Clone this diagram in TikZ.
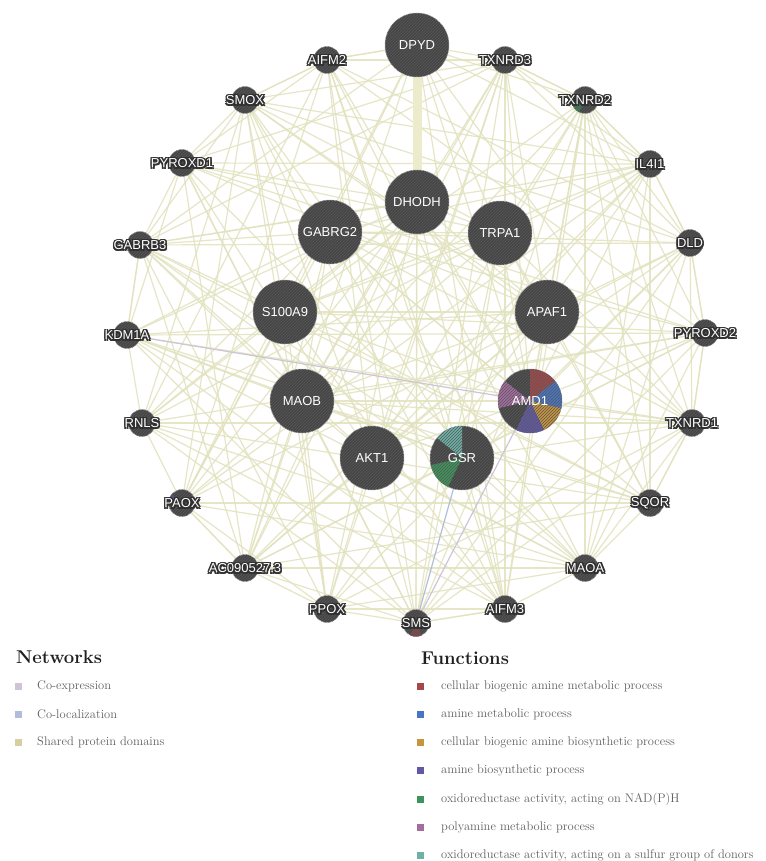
\documentclass[tikz,border=0pt]{standalone}
\usepackage{fontspec}
\newfontfamily\lblfont{Liberation Sans}
\newfontfamily\halofont{Liberation Sans}[FakeBold=4]
\usetikzlibrary{patterns}
\pgfdeclarelayer{bg}
\pgfsetlayers{bg,main}
\definecolor{nodefill}{RGB}{70,70,70}
\definecolor{hatchcol}{RGB}{88,88,88}
\definecolor{nodering}{RGB}{170,170,170}
\definecolor{halo}{RGB}{48,48,48}
\definecolor{edgecol}{RGB}{226,226,190}
\definecolor{thickedge}{RGB}{236,236,204}
\definecolor{coexp}{RGB}{206,196,216}
\definecolor{coloc}{RGB}{176,190,218}
\definecolor{shared}{RGB}{214,208,160}
\definecolor{fred}{RGB}{165,72,72}
\definecolor{fblue}{RGB}{72,118,196}
\definecolor{forange}{RGB}{200,148,60}
\definecolor{fpurple}{RGB}{98,88,168}
\definecolor{fgreen}{RGB}{60,148,90}
\definecolor{fmauve}{RGB}{165,108,160}
\definecolor{fteal}{RGB}{108,178,168}
\tikzset{
  bignode/.style={circle, minimum size=64pt, inner sep=0pt, fill=nodefill, draw=nodering, line width=0.5pt},
  smallnode/.style={circle, minimum size=27pt, inner sep=0pt, fill=nodefill, draw=nodering, line width=0.5pt},
  lbl/.style={inner sep=0pt, font=\lblfont\fontsize{13}{13}\selectfont},
  halolbl/.style={inner sep=0pt, text=halo, font=\halofont\fontsize{13}{13}\selectfont},
  edge/.style={draw=edgecol, line width=1.2pt, opacity=0.85},
  coexpedge/.style={draw=coexp, line width=1.2pt},
  colocedge/.style={draw=coloc, line width=1.2pt},
  hatch/.style={pattern=north east lines, pattern color=hatchcol},
  sq/.style={minimum size=7pt, inner sep=0pt},
  legtext/.style={anchor=west, inner sep=0pt, text=black!62, font=\fontsize{12.5}{14}\selectfont},
  leghead/.style={anchor=west, inner sep=0pt, text=black!88, font=\bfseries\fontsize{18.5}{20}\selectfont},
}
\newcommand\smalllabel[2]{%
  \foreach \dx/\dy [count=\k] in {1.1/1.1,-1.1/1.1,1.1/-1.1,-1.1/-1.1}{%
    \node[halolbl] (#1h\k) at ([xshift=\dx pt, yshift=\dy pt]#1.center) {#2};}%
  \node[lbl, text=white] (#1t) at (#1.center) {#2};}
\newcommand\pieslice[4]{% node, radius(pt), index, colour
  \fill[#4] (#1.center) -- ++({90-#3*51.4286}:#2pt) arc[start angle={90-#3*51.4286}, end angle={90-(#3+1)*51.4286}, radius=#2pt] -- cycle;}
\begin{document}
\begin{tikzpicture}[x=1pt,y=-1pt]
\useasboundingbox (0,0) rectangle (765,861);
% outer ring
\node[bignode] (DPYD) at (417,45) {};
\node[smallnode] (TXNRD3) at (505,60) {};
\node[smallnode] (TXNRD2) at (585,100) {};
\node[smallnode] (IL4I1) at (650,164) {};
\node[smallnode] (DLD) at (690,243) {};
\node[smallnode] (PYROXD2) at (705,333) {};
\node[smallnode] (TXNRD1) at (692,423) {};
\node[smallnode] (SQOR) at (650,503) {};
\node[smallnode] (MAOA) at (585,568) {};
\node[smallnode] (AIFM3) at (505,609) {};
\node[smallnode] (SMS) at (416,623) {};
\node[smallnode] (PPOX) at (327,609) {};
\node[smallnode] (AC) at (245,568) {};
\node[smallnode] (PAOX) at (182,503) {};
\node[smallnode] (RNLS) at (142,423) {};
\node[smallnode] (KDM1A) at (127,335) {};
\node[smallnode] (GABRB3) at (140,245) {};
\node[smallnode] (PYROXD1) at (182,163) {};
\node[smallnode] (SMOX) at (245,100) {};
\node[smallnode] (AIFM2) at (327,60) {};
% inner
\node[bignode] (DHODH) at (417,202) {};
\node[bignode] (GABRG2) at (330,232) {};
\node[bignode] (TRPA1) at (500,233) {};
\node[bignode] (S100A9) at (285,312) {};
\node[bignode] (APAF1) at (547,312) {};
\node[bignode] (MAOB) at (302,401) {};
\node[bignode] (AMD1) at (530,401) {};
\node[bignode] (AKT1) at (372,458) {};
\node[bignode] (GSR) at (462,458) {};
% pie slices
\pieslice{AMD1}{32}{0}{fred}
\pieslice{AMD1}{32}{1}{fblue}
\pieslice{AMD1}{32}{2}{forange}
\pieslice{AMD1}{32}{3}{fpurple}
\pieslice{AMD1}{32}{5}{fmauve}
\pieslice{GSR}{32}{4}{fgreen}
\pieslice{GSR}{32}{6}{fteal}
\pieslice{TXNRD2}{13.5}{4}{fgreen!70!nodefill}
\pieslice{PAOX}{13.5}{5}{fpurple!70!nodefill}
\pieslice{SMS}{13.5}{3}{fred!60!nodefill}
% hatch overlay
\foreach \n/\r in {DPYD/32,DHODH/32,GABRG2/32,TRPA1/32,S100A9/32,APAF1/32,MAOB/32,AMD1/32,AKT1/32,GSR/32,TXNRD3/13.5,TXNRD2/13.5,IL4I1/13.5,DLD/13.5,PYROXD2/13.5,TXNRD1/13.5,SQOR/13.5,MAOA/13.5,AIFM3/13.5,SMS/13.5,PPOX/13.5,AC/13.5,PAOX/13.5,RNLS/13.5,KDM1A/13.5,GABRB3/13.5,PYROXD1/13.5,SMOX/13.5,AIFM2/13.5}
  {\fill[hatch] (\n.center) circle[radius=\r pt];}
% big labels
\foreach \n/\t in {DPYD/DPYD,DHODH/DHODH,GABRG2/GABRG2,TRPA1/TRPA1,S100A9/S100A9,APAF1/APAF1,MAOB/MAOB,AMD1/AMD1,AKT1/AKT1,GSR/GSR}
  {\node[lbl, text=white] (\n t) at (\n.center) {\t};}
% small labels
\smalllabel{TXNRD3}{TXNRD3}
\smalllabel{TXNRD2}{TXNRD2}
\smalllabel{IL4I1}{IL4I1}
\smalllabel{DLD}{DLD}
\smalllabel{PYROXD2}{PYROXD2}
\smalllabel{TXNRD1}{TXNRD1}
\smalllabel{SQOR}{SQOR}
\smalllabel{MAOA}{MAOA}
\smalllabel{AIFM3}{AIFM3}
\smalllabel{SMS}{SMS}
\smalllabel{PPOX}{PPOX}
\smalllabel{AC}{AC090527.3}
\smalllabel{PAOX}{PAOX}
\smalllabel{RNLS}{RNLS}
\smalllabel{KDM1A}{KDM1A}
\smalllabel{GABRB3}{GABRB3}
\smalllabel{PYROXD1}{PYROXD1}
\smalllabel{SMOX}{SMOX}
\smalllabel{AIFM2}{AIFM2}
% edges
\begin{pgfonlayer}{bg}
\fill[white] (0,0) rectangle (765,861);
\def\allnodes{DPYD,TXNRD3,TXNRD2,IL4I1,DLD,PYROXD2,TXNRD1,SQOR,MAOA,AIFM3,SMS,PPOX,AC,PAOX,RNLS,KDM1A,GABRB3,PYROXD1,SMOX,AIFM2,DHODH,GABRG2,TRPA1,S100A9,APAF1,MAOB,AMD1,AKT1,GSR}
\foreach \a [count=\i] in \allnodes {
  \foreach \b [count=\j] in \allnodes {
    \ifnum\j>\i
      \pgfmathtruncatemacro\rr{mod(\i*37+\j*53+\i*\j*17,100)}
      \ifnum\rr<55
        \draw[edge] (\a) -- (\b);
      \fi
    \fi
  }
}
\foreach \a/\b in {DPYD/TXNRD3,TXNRD3/TXNRD2,TXNRD2/IL4I1,IL4I1/DLD,DLD/PYROXD2,PYROXD2/TXNRD1,TXNRD1/SQOR,SQOR/MAOA,MAOA/AIFM3,AIFM3/SMS,SMS/PPOX,PPOX/AC,AC/PAOX,PAOX/RNLS,RNLS/KDM1A,KDM1A/GABRB3,GABRB3/PYROXD1,PYROXD1/SMOX,SMOX/AIFM2,AIFM2/DPYD}
  {\draw[edge] (\a) -- (\b);}
\draw[draw=thickedge, line width=9pt] (DPYD) -- (DHODH);
\draw[colocedge] (GSR) -- (SMS);
\draw[coexpedge] (AMD1) -- (SMS);
\draw[coexpedge] (AMD1) -- (KDM1A);
\end{pgfonlayer}
% legend
\node[leghead] (nethead) at (16,657) {Networks};
\node[sq, fill=coexp] (nsq1) at (18.5,686) {};
\node[legtext] (nt1) at (37,686) {Co-expression};
\node[sq, fill=coloc] (nsq2) at (18.5,714) {};
\node[legtext] (nt2) at (37,714) {Co-localization};
\node[sq, fill=shared] (nsq3) at (18.5,742) {};
\node[legtext] (nt3) at (37,742) {Shared protein domains};
\node[leghead] (funhead) at (421,658) {Functions};
\foreach \c/\t [count=\k] in {fred/cellular biogenic amine metabolic process,fblue/amine metabolic process,forange/cellular biogenic amine biosynthetic process,fpurple/amine biosynthetic process,fgreen/{oxidoreductase activity, acting on NAD(P)H},fmauve/polyamine metabolic process,fteal/{oxidoreductase activity, acting on a sulfur group of donors}}
{
  \node[sq, fill=\c] (fsq\k) at (420,{686+(\k-1)*28.3}) {};
  \node[legtext] (ft\k) at (441,{686+(\k-1)*28.3}) {\t};
}
\end{tikzpicture}
\end{document}
